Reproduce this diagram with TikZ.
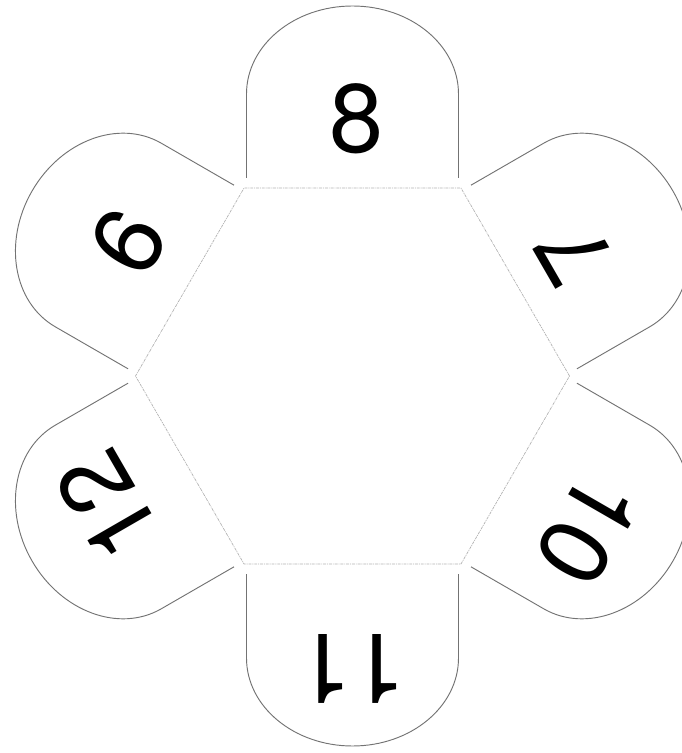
\documentclass[tikz,border=0pt]{standalone}
\usepackage{fontspec}
\newfontfamily\numfont{TeX Gyre Heros}
\usetikzlibrary{calc}

\begin{document}
\begin{tikzpicture}[x=0.3mm, y=0.3mm,
  petal/.style={draw=black!55, line width=0.8pt},
  hexline/.style={draw=black!30, line width=0.6pt, dash pattern=on 2.5pt off 0.8pt on 0.8pt off 0.8pt},
  num/.style={font=\numfont\fontsize{83}{90}\selectfont, inner sep=0pt}
]
  \useasboundingbox (-352.5,-377) rectangle (329.5,376);

  % hexagon in the middle
  \foreach \i in {0,...,5}
    \coordinate (h\i) at (\i*60:217);
  \draw[hexline] (h0) -- (h1) -- (h2) -- (h3) -- (h4) -- (h5) -- cycle;

  % one petal on each side
  \foreach \a in {90,30,-30,-90,210,150} {
    \begin{scope}[rotate=\a-90]
      \draw[petal] (-106,198) -- (-106,282)
        arc[start angle=180, end angle=0, x radius=106, y radius=88] -- (106,198);
    \end{scope}
  }

  % numbers
  \node[num]              (top)   at (89:257.5)  {8};
  \node[num, rotate=120]  (upr)   at (29:253)    {7};
  \node[num, rotate=-120] (lowr)  at (-33:281)   {10};
  \node[num, rotate=180]  (bot)   at (-90:293)   {11};
  \node[num, rotate=120]  (lowl)  at (208:277.5) {12};
  \node[num, rotate=-120] (upl)   at (149:261.5) {9};
\end{tikzpicture}
\end{document}
